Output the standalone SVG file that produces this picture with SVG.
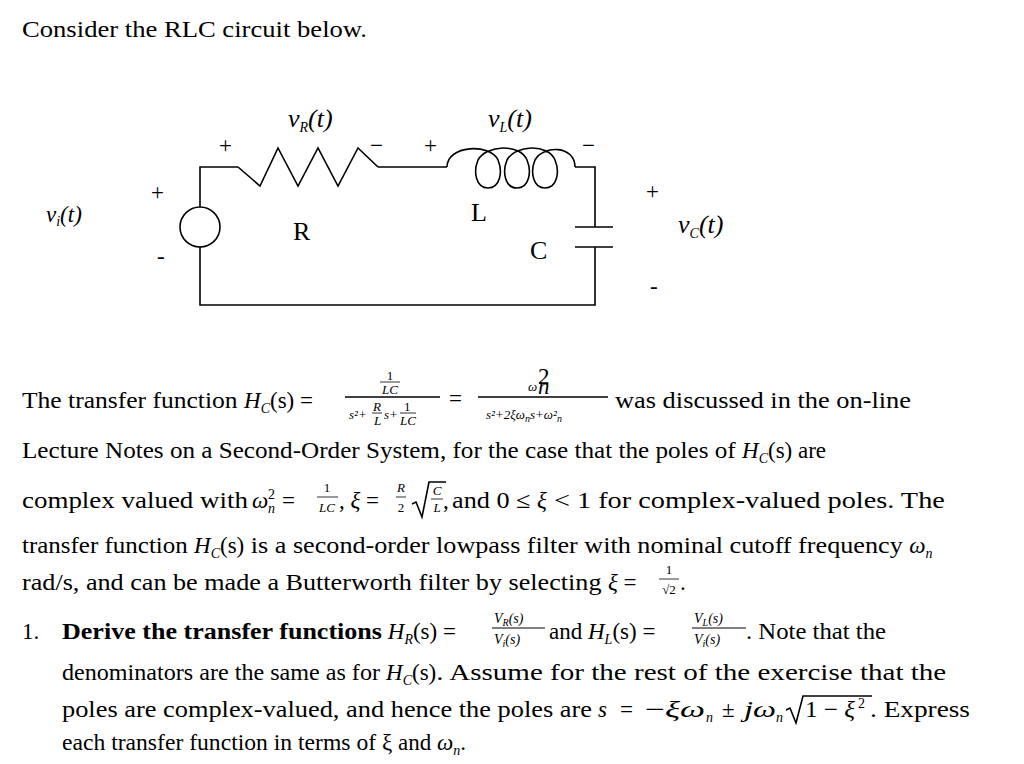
<svg xmlns="http://www.w3.org/2000/svg" width="1024" height="764" viewBox="0 0 1024 764" font-family="'Liberation Serif','Times New Roman',Tinos,serif">
<style>
text{font-family:"Liberation Serif","Times New Roman",Tinos,serif;font-size:23px;fill:#000}
.m{font-style:italic}
.s{font-size:14px}
.f{font-size:13px}
.c{font-size:26px}
.w{stroke:#000;stroke-width:1.6;fill:none}
.b{font-weight:bold}
</style>
<rect width="1024" height="764" fill="#fff"/>
<text x="22" y="37" textLength="345" lengthAdjust="spacingAndGlyphs">Consider the RLC circuit below.</text>
<g id="connectors">
<path class="w" d="M238,167 H200 V207 M200,247 V305 H595 V247 M595,227 V167 H575 M378,167 H447"/>
</g>
<g id="source"><circle class="w" cx="200" cy="227" r="20"/></g>
<g id="resistor"><path class="w" d="M238,167 L260,186 L278,148 L298,186 L318,148 L338,186 L358,148 L378,167"/></g>
<g id="inductor"><path class="w" d="M447,167 C447,145 490,143 498,160 C503,172 500,188 488,188 C476,188 473,172 478,160 C486,145 520,143 527,160 C532,172 529,188 517,188 C505,188 502,172 507,160 C515,145 548,143 555,160 C560,172 557,188 545,188 C533,188 530,172 535,160 C543,145 575,145 575,167"/></g>
<g id="capacitor"><path class="w" d="M575,227 H613 M575,247 H613"/></g>
<g id="labels">
<text x="219" y="153" font-size="30">+</text>
<text x="288" y="127" class="c m">v<tspan class="s" dy="5">R</tspan><tspan dy="-5">(t)</tspan></text>
<text x="370" y="153" font-size="30">−</text>
<text x="424" y="153" font-size="30">+</text>
<text x="488" y="127" class="c m">v<tspan class="s" dy="5">L</tspan><tspan dy="-5">(t)</tspan></text>
<text x="582" y="153" font-size="30">−</text>
<text x="151" y="200" font-size="26">+</text>
<text x="46" y="222" class="m">v<tspan class="s" dy="4">i</tspan><tspan dy="-4">(t)</tspan></text>
<text x="157" y="264">-</text>
<text x="293" y="240" class="c">R</text>
<text x="471" y="221" class="c">L</text>
<text x="530" y="259" class="c">C</text>
<text x="646" y="199" font-size="26">+</text>
<text x="678" y="233" class="c m">v<tspan class="s" dy="5">C</tspan><tspan dy="-5">(t)</tspan></text>
<text x="650" y="294">-</text>
</g>
<g id="body">
<text x="22" y="408"><tspan textLength="222" lengthAdjust="spacingAndGlyphs">The transfer function </tspan><tspan class="m">H</tspan><tspan class="s m" dy="5">C</tspan><tspan dy="-5">(s) =</tspan></text>
<path class="w" stroke-width="1" d="M345,397 H440 M478,397 H608"/>
<text x="390" y="380" class="f" text-anchor="middle">1</text>
<line x1="380" y1="382" x2="400" y2="382" stroke="#000" stroke-width="0.8"/>
<text x="390" y="394" class="f m" text-anchor="middle">LC</text>
<text x="349" y="419" class="f m">s²+</text>
<text x="373" y="411" class="f m">R</text>
<line x1="372" y1="413" x2="382" y2="413" stroke="#000" stroke-width="0.8"/>
<text x="374" y="425" class="f m">L</text>
<text x="384" y="419" class="f m">s+</text>
<text x="404" y="411" class="f">1</text>
<line x1="400" y1="413" x2="416" y2="413" stroke="#000" stroke-width="0.8"/>
<text x="400" y="425" class="f m">LC</text>
<text x="449" y="406">=</text>
<text x="528" y="391" class="f m">ω</text>
<text x="538" y="384" font-size="10">2</text>
<text x="538" y="394" font-size="10" class="m">n</text>
<text x="486" y="419" class="f m">s²+2ξω<tspan font-size="10" dy="3">n</tspan><tspan dy="-3">s+ω²</tspan><tspan font-size="10" dy="3">n</tspan></text>
<text x="615" y="408" textLength="296" lengthAdjust="spacingAndGlyphs">was discussed in the on-line</text>

<text x="22" y="458"><tspan textLength="720" lengthAdjust="spacingAndGlyphs">Lecture Notes on a Second-Order System, for the case that the poles of </tspan><tspan class="m">H</tspan><tspan class="s m" dy="5">C</tspan><tspan dy="-5">(s) are</tspan></text>

<text x="22" y="508" textLength="226" lengthAdjust="spacingAndGlyphs">complex valued with</text>
<text x="252" y="508" class="m">ω</text>
<text x="268" y="499" class="s">2</text>
<text x="268" y="513" class="s m">n</text>
<text x="282" y="508">=</text>
<text x="327" y="492" class="f" text-anchor="middle">1</text>
<line x1="317" y1="497" x2="338" y2="497" stroke="#000" stroke-width="0.8"/>
<text x="327" y="512" class="f m" text-anchor="middle">LC</text>
<text x="339" y="508">, <tspan class="m">ξ</tspan> =</text>
<text x="401" y="492" class="f m" text-anchor="middle">R</text><line x1="396" y1="497" x2="406" y2="497" stroke="#000" stroke-width="0.8"/>
<text x="401" y="512" class="f" text-anchor="middle">2</text>
<path class="w" stroke-width="1" d="M412,504 L416,502 L422,517 L429,482 H446"/>
<text x="437" y="495" class="f m" text-anchor="middle">C</text><line x1="431" y1="499" x2="443" y2="499" stroke="#000" stroke-width="0.8"/>
<text x="437" y="512" class="f m" text-anchor="middle">L</text>
<text x="443" y="508">,</text>
<text x="452" y="508"><tspan textLength="85" lengthAdjust="spacingAndGlyphs">and 0 ≤ </tspan><tspan class="m">ξ</tspan><tspan textLength="398" lengthAdjust="spacingAndGlyphs"> &lt; 1 for complex-valued poles. The</tspan></text>

<text x="22" y="553"><tspan textLength="172" lengthAdjust="spacingAndGlyphs">transfer function </tspan><tspan class="m">H</tspan><tspan class="s m" dy="5">C</tspan><tspan dy="-5">(s)</tspan><tspan textLength="665" lengthAdjust="spacingAndGlyphs"> is a second-order lowpass filter with nominal cutoff frequency </tspan><tspan class="m">ω</tspan><tspan class="s m" dy="5">n</tspan></text>

<text x="22" y="590"><tspan textLength="586" lengthAdjust="spacingAndGlyphs">rad/s, and can be made a Butterworth filter by selecting </tspan><tspan class="m">ξ</tspan> =</text>
<text x="669" y="574" class="f" text-anchor="middle">1</text>
<line x1="659" y1="579" x2="679" y2="579" stroke="#000" stroke-width="0.8"/>
<text x="669" y="594" class="f" text-anchor="middle">√2</text>
<text x="680" y="590">.</text>

<text x="22" y="639">1.</text>
<text x="62" y="639"><tspan class="b" textLength="320" lengthAdjust="spacingAndGlyphs">Derive the transfer functions</tspan><tspan> </tspan><tspan class="m">H</tspan><tspan class="s m" dy="5">R</tspan><tspan dy="-5">(s) =</tspan></text>
<line x1="492" y1="628" x2="545" y2="628" stroke="#000" stroke-width="1"/>
<text x="494" y="623" class="s m">V<tspan font-size="10" dy="3">R</tspan><tspan dy="-3">(s)</tspan></text>
<text x="494" y="644" class="s m">V<tspan font-size="10" dy="3">i</tspan><tspan dy="-3">(s)</tspan></text>
<text x="549" y="639"><tspan>and </tspan><tspan class="m">H</tspan><tspan class="s m" dy="5">L</tspan><tspan dy="-5">(s) =</tspan></text>
<line x1="692" y1="628" x2="746" y2="628" stroke="#000" stroke-width="1"/>
<text x="694" y="623" class="s m">V<tspan font-size="10" dy="3">L</tspan><tspan dy="-3">(s)</tspan></text>
<text x="694" y="644" class="s m">V<tspan font-size="10" dy="3">i</tspan><tspan dy="-3">(s)</tspan></text>
<text x="746" y="639" textLength="140" lengthAdjust="spacingAndGlyphs">. Note that the</text>

<text x="62" y="680"><tspan textLength="324" lengthAdjust="spacingAndGlyphs">denominators are the same as for </tspan><tspan class="m">H</tspan><tspan class="s m" dy="5">C</tspan><tspan dy="-5">(s)</tspan><tspan textLength="510" lengthAdjust="spacingAndGlyphs">. Assume for the rest of the exercise that the</tspan></text>

<text x="62" y="717" textLength="530" lengthAdjust="spacingAndGlyphs">poles are complex-valued, and hence the poles are</text>
<text x="598" y="717" class="m">s</text>
<text x="620" y="717">=</text>
<text x="645" y="717" textLength="60" lengthAdjust="spacingAndGlyphs">−<tspan class="m">ξω</tspan></text>
<text x="706" y="722" class="s m">n</text>
<text x="722" y="717">±</text>
<text x="744" y="717" class="m" textLength="32" lengthAdjust="spacingAndGlyphs">jω</text>
<text x="776" y="722" class="s m">n</text>
<path class="w" stroke-width="1" d="M786,710 L790,708 L796,723 L803,696 H872"/>
<text x="805" y="717" textLength="50" lengthAdjust="spacingAndGlyphs">1 − <tspan class="m">ξ</tspan></text>
<text x="858" y="708" class="s">2</text>
<text x="870" y="717" textLength="100" lengthAdjust="spacingAndGlyphs">. Express</text>

<text x="62" y="750"><tspan textLength="320" lengthAdjust="spacingAndGlyphs">each transfer function in terms of </tspan><tspan>ξ and </tspan><tspan class="m">ω</tspan><tspan class="s m" dy="5">n</tspan><tspan dy="-5">.</tspan></text>
</g>
</svg>
